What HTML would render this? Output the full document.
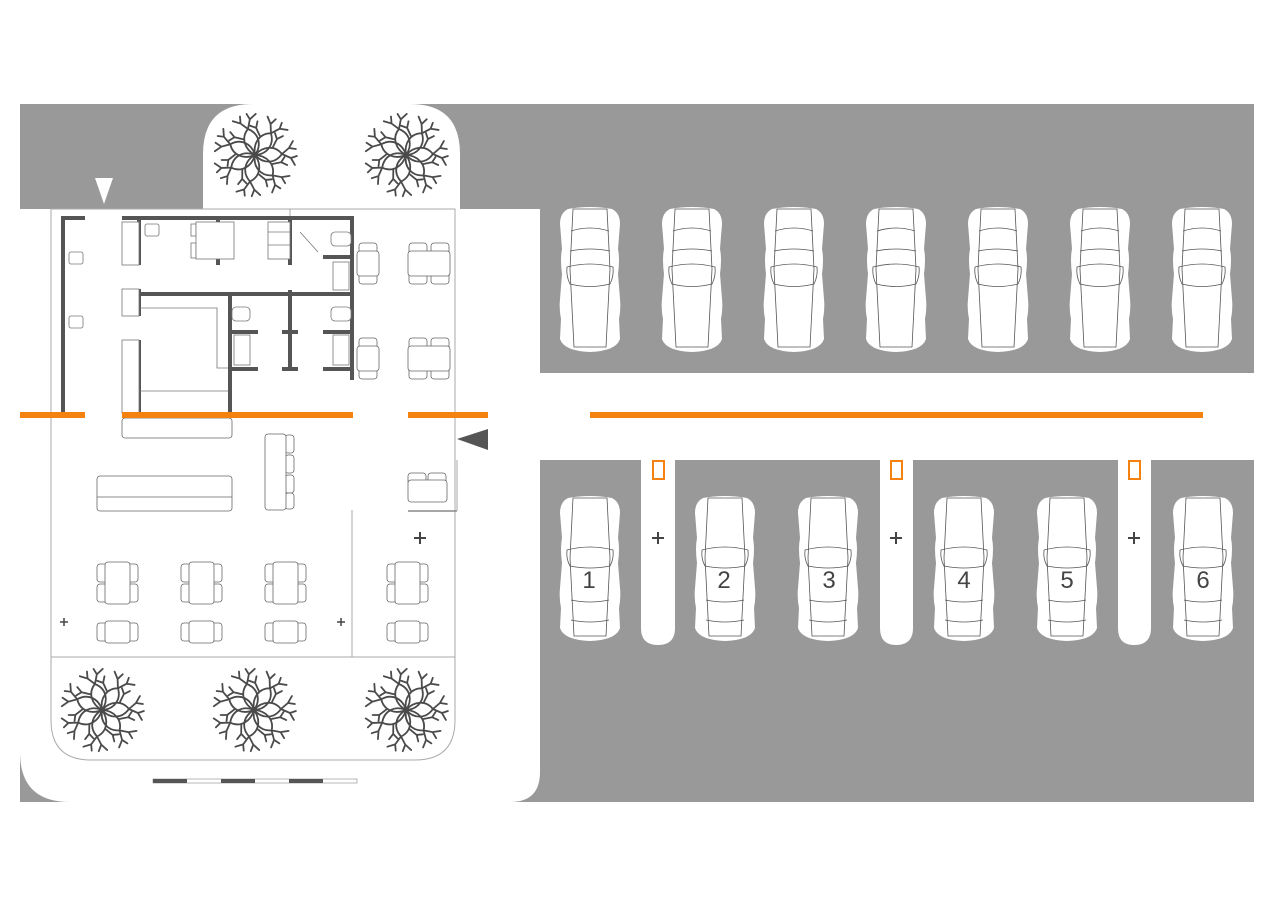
<!DOCTYPE html>
<html><head><meta charset="utf-8"><style>html,body{margin:0;padding:0;background:#fff}svg{display:block}</style></head><body>
<svg width="1280" height="905" viewBox="0 0 1280 905" xmlns="http://www.w3.org/2000/svg">
<defs>
<g id="petal" fill="none" stroke="#4a4a4a" stroke-width="1.8" stroke-linecap="round">
<path d="M0 0 C8 -9 20 -10 27 -1 C20 9 8 9 0 0"/>
<path d="M27 -1 L34 -7 L38 -14 M34 -7 L41 -6 M27 -1 L36 3 L42 1 M36 3 L40 10 M18 -8 L22 -16 L20 -22 M22 -16 L28 -19"/>
</g>
<g id="tree">
<g transform="scale(0.95)">
<use href="#petal"/>
<use href="#petal" transform="rotate(51.4)"/>
<use href="#petal" transform="rotate(102.8)"/>
<use href="#petal" transform="rotate(154.2)"/>
<use href="#petal" transform="rotate(205.6)"/>
<use href="#petal" transform="rotate(257)"/>
<use href="#petal" transform="rotate(308.4)"/>
</g>
<circle r="3" fill="#4a4a4a"/>
</g>
<g id="car">
<path d="M-22 -70 Q0 -74 22 -70 Q30 -66 30 -55 L28 -30 Q30 -20 28 -5 L30 20 Q31 30 29 40 L30 60 Q26 72 0 73 Q-26 72 -30 60 L-29 40 Q-31 30 -30 20 L-28 -5 Q-30 -20 -28 -30 L-30 -55 Q-30 -66 -22 -70Z" fill="#fff"/>
<g fill="none" stroke="#555" stroke-width="0.8">
<path d="M-17 -70 L-20 -10 L-16 68 L16 68 L20 -10 L17 -70 Z"/>
<path d="M-19 -48 Q0 -54 19 -48"/>
<path d="M-20 -28 Q0 -32 20 -28"/>
<path d="M-23 -12 Q-24 -3 -20 5 Q0 10 20 5 Q24 -3 23 -12 Q0 -18 -23 -12Z"/>
</g>
</g>
<g id="car2">
<path d="M-22 -70 Q0 -74 22 -70 Q30 -66 30 -55 L28 -30 Q30 -20 28 -5 L30 20 Q31 30 29 40 L30 60 Q26 72 0 73 Q-26 72 -30 60 L-29 40 Q-31 30 -30 20 L-28 -5 Q-30 -20 -28 -30 L-30 -55 Q-30 -66 -22 -70Z" fill="#fff"/>
<g fill="none" stroke="#555" stroke-width="0.8">
<path d="M-17 -70 L-20 -10 L-16 68 L16 68 L20 -10 L17 -70 Z"/>
<path d="M-23 -18 Q-24 -9 -20 -2 Q0 2 20 -2 Q24 -9 23 -18 Q0 -24 -23 -18Z"/>
<path d="M-19 32 Q0 36 19 32"/>
<path d="M-19 52 Q0 56 19 52"/>
</g>
</g>
<g id="t4" fill="#fff" stroke="#666" stroke-width="0.8">
<rect x="0" y="0" width="18" height="12" rx="3"/><rect x="22" y="0" width="18" height="12" rx="3"/>
<rect x="0" y="29" width="18" height="12" rx="3"/><rect x="22" y="29" width="18" height="12" rx="3"/>
<rect x="-1" y="8" width="42" height="25" rx="3"/>
</g>
<g id="t4v" fill="#fff" stroke="#666" stroke-width="0.8">
<rect x="0" y="2" width="12" height="18" rx="3"/><rect x="0" y="22" width="12" height="18" rx="3"/>
<rect x="29" y="2" width="12" height="18" rx="3"/><rect x="29" y="22" width="12" height="18" rx="3"/>
<rect x="8" y="0" width="25" height="42" rx="3"/>
</g>
<g id="t2h" fill="#fff" stroke="#666" stroke-width="0.8">
<rect x="0" y="2" width="12" height="18" rx="3"/><rect x="29" y="2" width="12" height="18" rx="3"/>
<rect x="8" y="0" width="25" height="22" rx="3"/>
</g>
<g id="t2v" fill="#fff" stroke="#666" stroke-width="0.8">
<rect x="0" y="0" width="18" height="12" rx="3"/><rect x="0" y="29" width="18" height="12" rx="3"/>
<rect x="-2" y="8" width="22" height="25" rx="3"/>
</g>
</defs>

<rect x="20" y="104" width="1234" height="698" fill="#999"/>
<path d="M203 209 L203 154 Q203 104 253 104 L410 104 Q460 104 460 154 L460 209 Z" fill="#fff"/>
<path d="M20 209 L540 209 L540 772 Q540 802 510 802 L70 802 Q20 802 20 752 Z" fill="#fff"/>
<rect x="539" y="373" width="715" height="87" fill="#fff"/>
<path d="M641 458 L675 458 L675 628 Q675 645 658 645 Q641 645 641 628 Z" fill="#fff"/>
<path d="M880 458 L913 458 L913 628 Q913 645 896 645 Q880 645 880 628 Z" fill="#fff"/>
<path d="M1118 458 L1151 458 L1151 628 Q1151 645 1134 645 Q1118 645 1118 628 Z" fill="#fff"/>

<g fill="none" stroke="#aaa" stroke-width="1">
<rect x="51" y="209" width="404" height="448"/>
<path d="M51 657 L51 720 Q51 760 91 760 L415 760 Q455 760 455 720 L455 657"/>
<line x1="352" y1="510" x2="352" y2="657"/>
<line x1="408" y1="511" x2="457" y2="511" stroke="#888" stroke-width="1.5"/>
<line x1="457" y1="460" x2="457" y2="511"/>
<line x1="290" y1="209" x2="290" y2="218"/>
</g>

<g stroke="#555" stroke-width="4" fill="none">
<path d="M85 218 L63 218 L63 413"/>
<path d="M122 218 L352 218 L352 380"/>
<line x1="139" y1="218" x2="139" y2="265"/>
<line x1="218" y1="218" x2="218" y2="265"/>
<line x1="290" y1="218" x2="290" y2="265"/>
<line x1="323" y1="257" x2="352" y2="257"/>
<line x1="139" y1="294" x2="352" y2="294"/>
<line x1="139" y1="289" x2="139" y2="316"/>
<line x1="139" y1="340" x2="139" y2="413"/>
<line x1="230" y1="294" x2="230" y2="413"/>
<line x1="290" y1="290" x2="290" y2="369"/>
<path d="M230 332 L258 332 M282 332 L298 332 M323 332 L352 332 M230 369 L258 369 M282 369 L298 369 M323 369 L352 369"/>
</g>
<g fill="#fff" stroke="#777" stroke-width="0.8">
<rect x="122" y="222" width="17" height="43"/>
<rect x="122" y="289" width="17" height="27"/>
<rect x="122" y="340" width="17" height="73"/>
<rect x="69" y="252" width="14" height="12" rx="2"/>
<rect x="69" y="316" width="14" height="12" rx="2"/>
<rect x="145" y="224" width="14" height="12" rx="2"/>
<rect x="191" y="224" width="5" height="12"/><rect x="191" y="243" width="5" height="15"/>
<rect x="196" y="222" width="38" height="37"/>
<rect x="268" y="222" width="22" height="37"/>
<line x1="268" y1="232" x2="290" y2="232"/><line x1="268" y1="245" x2="290" y2="245"/>
<rect x="331" y="232" width="20" height="14" rx="4"/>
<rect x="333" y="262" width="16" height="28"/>
<rect x="232" y="307" width="18" height="14" rx="4"/>
<rect x="331" y="307" width="20" height="14" rx="4"/>
<rect x="234" y="335" width="16" height="30"/>
<rect x="333" y="335" width="16" height="30"/>
<path d="M140 308 L217 308 L217 368 L228 368" fill="none"/>
<path d="M140 391 L228 391" fill="none"/>
<path d="M300 232 L318 252" fill="none"/>
</g>

<use href="#t2v" x="359" y="243"/>
<use href="#t4" x="409" y="243"/>
<use href="#t2v" x="359" y="338"/>
<use href="#t4" x="409" y="338"/>
<g fill="#fff" stroke="#666" stroke-width="0.8">
<rect x="408" y="473" width="18" height="12" rx="3"/><rect x="428" y="473" width="18" height="12" rx="3"/>
<rect x="408" y="480" width="39" height="22" rx="3"/>
<rect x="122" y="418" width="110" height="20" rx="3"/>
<rect x="97" y="476" width="135" height="35" rx="3"/>
<line x1="97" y1="497" x2="232" y2="497"/>
<rect x="285" y="435" width="9" height="18" rx="3"/><rect x="285" y="455" width="9" height="18" rx="3"/>
<rect x="285" y="475" width="9" height="18" rx="3"/><rect x="285" y="493" width="9" height="16" rx="3"/>
<rect x="265" y="434" width="21" height="76" rx="3"/>
</g>
<use href="#t4v" x="97" y="562"/>
<use href="#t4v" x="181" y="562"/>
<use href="#t4v" x="265" y="562"/>
<use href="#t4v" x="387" y="562"/>
<use href="#t2h" x="97" y="621"/>
<use href="#t2h" x="181" y="621"/>
<use href="#t2h" x="265" y="621"/>
<use href="#t2h" x="387" y="621"/>

<g fill="#f5820f">
<rect x="20" y="412" width="65" height="6"/>
<rect x="122" y="412" width="231" height="6"/>
<rect x="408" y="412" width="80" height="6"/>
<rect x="590" y="412" width="613" height="6"/>
</g>
<g fill="none" stroke="#f5820f" stroke-width="2">
<rect x="653" y="461" width="11" height="18"/>
<rect x="891" y="461" width="11" height="18"/>
<rect x="1129" y="461" width="11" height="18"/>
</g>

<polygon points="95,178 113,178 104,204" fill="#fff"/>
<polygon points="457,439 488,429 488,450" fill="#555"/>

<g stroke="#444" stroke-width="2">
<path d="M414 538 H426 M420 532 V544"/>
<path d="M652 538 H664 M658 532 V544"/>
<path d="M890 538 H902 M896 532 V544"/>
<path d="M1128 538 H1140 M1134 532 V544"/>
</g>
<g stroke="#444" stroke-width="1.5">
<path d="M60 622 H68 M64 618 V626"/>
<path d="M337 622 H345 M341 618 V626"/>
</g>

<use href="#tree" transform="translate(255,155) scale(1.05)"/>
<use href="#tree" transform="translate(406,155) scale(1.05)"/>
<use href="#tree" transform="translate(102,710) scale(1.05)"/>
<use href="#tree" transform="translate(254,710) scale(1.05)"/>
<use href="#tree" transform="translate(406,710) scale(1.05)"/>

<use href="#car" x="590" y="279"/>
<use href="#car" x="692" y="279"/>
<use href="#car" x="794" y="279"/>
<use href="#car" x="896" y="279"/>
<use href="#car" x="998" y="279"/>
<use href="#car" x="1100" y="279"/>
<use href="#car" x="1202" y="279"/>
<use href="#car2" x="590" y="568"/>
<use href="#car2" x="725" y="568"/>
<use href="#car2" x="828" y="568"/>
<use href="#car2" x="964" y="568"/>
<use href="#car2" x="1067" y="568"/>
<use href="#car2" x="1203" y="568"/>
<g font-family="Liberation Sans, sans-serif" font-size="24" fill="#444" text-anchor="middle">
<text x="589" y="588">1</text><text x="724" y="588">2</text><text x="829" y="588">3</text>
<text x="964" y="588">4</text><text x="1067" y="588">5</text><text x="1203" y="588">6</text>
</g>

<rect x="153" y="779" width="204" height="4" fill="#fff" stroke="#888" stroke-width="0.6"/>
<g fill="#555"><rect x="153" y="779" width="34" height="4"/><rect x="221" y="779" width="34" height="4"/><rect x="289" y="779" width="34" height="4"/></g>
</svg>
</body></html>
